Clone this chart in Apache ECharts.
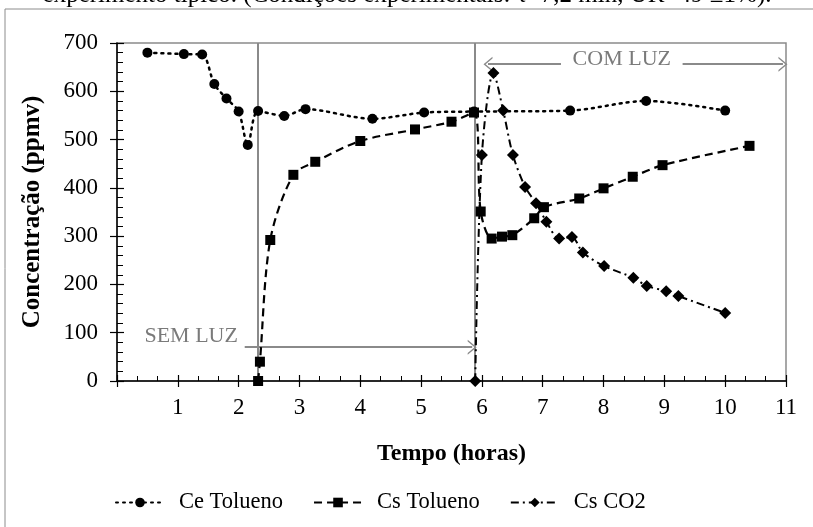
<!DOCTYPE html>
<html>
<head>
<meta charset="utf-8">
<script src="https://cdn.jsdelivr.net/npm/echarts@6/dist/echarts.min.js"></script>
<style>
  html, body { margin: 0; padding: 0; background: #fff; }
  #main { width: 813px; height: 527px; }
</style>
</head>
<body>
<div id="main"></div>
<script>
// dados
var ceX = [0.5, 1.1, 1.4, 1.6, 1.8, 2.0, 2.15, 2.32, 2.75, 3.1, 4.2, 5.05, 5.87, 7.45, 8.7, 10];
var ceY = [680, 677, 676, 615, 585, 558, 489, 559, 549, 563, 543, 556, 558, 560, 580, 560];

var csTolX = [2.32, 2.35, 2.52, 2.9, 3.26, 4.0, 4.9, 5.5, 5.87, 5.98, 6.16, 6.33, 6.5, 6.86, 7.02, 7.6, 8.0, 8.48, 8.97, 10.4];
var csTolY = [0, 40, 292, 427, 454, 497, 521, 537, 556, 351, 295, 299, 302, 337, 360, 378, 399, 423, 447, 487];

var co2X = [5.89, 6.0, 6.19, 6.35, 6.51, 6.71, 6.89, 7.06, 7.27, 7.48, 7.66, 8.01, 8.49, 8.71, 9.03, 9.23, 10.0];
var co2Y = [0, 468, 638, 560, 468, 402, 368, 330, 295, 298, 266, 238, 214, 197, 186, 176, 141];

var seriesNames = ['Ce Tolueno', 'Cs Tolueno', 'Cs CO2'];
var yTicks = [0, 700, 100];   // min, max, intervalo
var xTicks = [0, 11, 1];
var luzOff = 2.32;   // linha vertical: início sem luz
var luzOn = 5.89;    // linha vertical: início com luz

(function() {
    var myChart = echarts.init(document.getElementById('main'));
    var serif = '"Liberation Serif", "DejaVu Serif", serif';
    var gray = '#8a8a8a';

    function pairs(xs, ys) {
        return xs.map(function(x, i) { return [x, ys[i]]; });
    }
    // seta aberta (chevron)
    var chevron = 'path://M0,10 L5,0 L10,10 L8.8,10 L5,2.4 L1.2,10 Z';

    var option = {
        animation: false,
        textStyle: { fontFamily: serif },
        graphic: [{
            type: 'rect',
            shape: { x: 5, y: 9, width: 900, height: 700 },
            style: { fill: 'none', stroke: '#8c8c8c', lineWidth: 1 },
            z: -10
        }, {
            type: 'text',
            x: 407,
            y: 8,
            style: {
                text: 'experimento típico. (Condições experimentais: τ=7,2 min, UR=49 ±1%).',
                font: '25px ' + serif,
                fill: '#000',
                align: 'center',
                verticalAlign: 'bottom'
            }
        }],
        grid: {
            left: 117,
            right: 27,
            top: 43,
            bottom: 146,
            show: true,
            borderColor: gray,
            borderWidth: 1.5
        },
        legend: {
            left: 110,
            top: 486,
            itemWidth: 48,
            itemHeight: 12,
            itemGap: 30,
            textStyle: { fontFamily: serif, fontSize: 22.5, color: '#000', padding: [0, 0, 0, 10] },
            data: seriesNames
        },
        xAxis: [{
            type: 'value',
            min: xTicks[0],
            max: xTicks[1],
            interval: xTicks[2],
            name: 'Tempo (horas)',
            nameLocation: 'middle',
            nameGap: 61,
            nameTextStyle: { fontFamily: serif, fontSize: 24, fontWeight: 'bold', color: '#000' },
            axisLine: { show: true, onZero: false, lineStyle: { color: '#000', width: 1.5 } },
            axisTick: { show: true, inside: false, length: 6, lineStyle: { color: '#000', width: 1.2 } },
            axisLabel: {
                fontFamily: serif, fontSize: 23, color: '#000', margin: 15,
                formatter: function(v) { return v === 0 ? '' : v; }
            },
            splitLine: { show: false }
        }, {
            type: 'value',
            min: xTicks[0],
            max: xTicks[1],
            interval: xTicks[2],
            position: 'bottom',
            axisLine: { show: false },
            axisTick: { show: true, inside: true, length: 6, lineStyle: { color: '#000', width: 1.2 } },
            minorTick: { show: true, splitNumber: 3, length: 5, lineStyle: { color: '#000', width: 1 } },
            axisLabel: { show: false },
            splitLine: { show: false }
        }],
        yAxis: [{
            type: 'value',
            min: yTicks[0],
            max: yTicks[1],
            interval: yTicks[2],
            name: 'Concentração (ppmv)',
            nameLocation: 'middle',
            nameGap: 72,
            nameTextStyle: { fontFamily: serif, fontSize: 25, fontWeight: 'bold', color: '#000' },
            axisLine: { show: true, onZero: false, lineStyle: { color: '#000', width: 1.5 } },
            axisTick: { show: true, inside: false, length: 7, lineStyle: { color: '#000', width: 1.2 } },
            axisLabel: { fontFamily: serif, fontSize: 23, color: '#000', margin: 19 },
            splitLine: { show: false }
        }, {
            type: 'value',
            min: yTicks[0],
            max: yTicks[1],
            interval: yTicks[2],
            position: 'left',
            axisLine: { show: false },
            axisTick: { show: true, inside: true, length: 7, lineStyle: { color: '#000', width: 1.2 } },
            minorTick: { show: true, splitNumber: 5, length: 6, lineStyle: { color: '#000', width: 1 } },
            axisLabel: { show: false },
            splitLine: { show: false }
        }],
        series: [{
            name: seriesNames[0],
            type: 'line',
            data: pairs(ceX, ceY),
            smooth: 0.3,
            symbol: 'circle',
            symbolSize: 10,
            itemStyle: { color: '#000' },
            lineStyle: { color: '#000', width: 2.5, type: [2, 5], cap: 'round' },
            z: 5,
            markLine: {
                silent: true,
                symbol: 'none',
                label: { show: false },
                lineStyle: { color: gray, width: 2, type: 'solid' },
                data: [{ xAxis: luzOff }, { xAxis: luzOn }]
            }
        }, {
            name: seriesNames[1],
            type: 'line',
            data: pairs(csTolX, csTolY),
            smooth: 0.3,
            symbol: 'rect',
            symbolSize: 10,
            itemStyle: { color: '#000' },
            lineStyle: { color: '#000', width: 2.2, type: [8, 5] },
            z: 5,
            // setas SEM LUZ / COM LUZ
            markLine: {
                silent: true,
                label: { show: false },
                lineStyle: { color: gray, width: 2, type: 'solid' },
                symbolSize: [15, 9],
                data: [
                    [{ coord: [2.1, 70], symbol: 'none' }, { coord: [5.84, 70], symbol: chevron }],
                    [{ coord: [6.1, 656], symbol: chevron }, { coord: [7.3, 656], symbol: 'none' }],
                    [{ coord: [9.3, 656], symbol: 'none' }, { coord: [10.95, 656], symbol: chevron }]
                ]
            },
            markPoint: {
                silent: true,
                symbol: 'circle',
                symbolSize: 0,
                label: {
                    show: true,
                    position: 'inside',
                    fontFamily: serif,
                    fontSize: 22,
                    color: '#7a7a7a'
                },
                data: [
                    { coord: [1.22, 93], value: 'SEM LUZ', label: { formatter: 'SEM LUZ' } },
                    { coord: [8.3, 666], value: 'COM LUZ', label: { formatter: 'COM LUZ' } }
                ]
            }
        }, {
            name: seriesNames[2],
            type: 'line',
            data: pairs(co2X, co2Y),
            smooth: 0.3,
            symbol: 'diamond',
            symbolSize: 12,
            itemStyle: { color: '#000' },
            lineStyle: { color: '#000', width: 2, type: [8, 4, 2, 4] },
            z: 5
        }]
    };
    myChart.setOption(option);
    window.addEventListener('resize', function() {
        myChart.resize();
    });
})();
</script>
</body>
</html>
